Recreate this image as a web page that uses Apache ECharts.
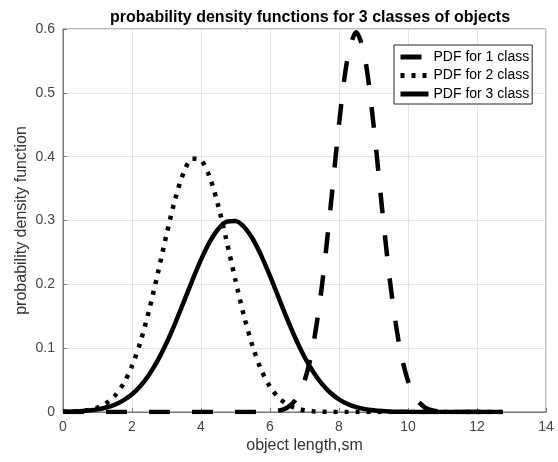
<!DOCTYPE html>
<html>
<head>
<meta charset="utf-8">
<script src="https://cdn.jsdelivr.net/npm/echarts@6/dist/echarts.min.js"></script>
<style>
  html, body { margin: 0; padding: 0; background: #fff; }
  #chart { width: 558px; height: 462px; }
</style>
</head>
<body>
<div id="chart"></div>
<script>
// x positions (object length, sm)
var lengths = [0, 0.25, 0.5, 0.75, 1, 1.25, 1.5, 1.75, 2, 2.25, 2.5, 2.75, 3, 3.25, 3.5, 3.75,
  4, 4.25, 4.5, 4.75, 5, 5.25, 5.5, 5.75, 6, 6.25, 6.5, 6.75, 7, 7.25, 7.5, 7.75,
  8, 8.25, 8.5, 8.75, 9, 9.25, 9.5, 9.75, 10, 10.25, 10.5, 10.75, 11, 11.25, 11.5, 11.75,
  12, 12.25, 12.5, 12.75]

// PDF for 1 class (dashed)
var pdf1 = [0, 0, 0, 0, 0, 0, 0, 0, 0, 0, 0, 0, 0, 0, 0, 0,
  0, 0, 0, 0, 0, 0, 0.00003, 0.00013, 0.00057, 0.0021, 0.0069, 0.0196, 0.0485, 0.1044, 0.1953, 0.318,
  0.4504, 0.555, 0.595, 0.555, 0.4504, 0.318, 0.1953, 0.1044, 0.0485, 0.0196, 0.0069, 0.0021, 0.00057, 0.00013, 0.00003, 0,
  0, 0, 0, 0]

// PDF for 2 class (dotted)
var pdf2 = [0.00024, 0.0006, 0.0015, 0.0033, 0.0069, 0.0136, 0.0252, 0.044, 0.0721, 0.1109, 0.1604, 0.2179, 0.278, 0.3332, 0.3752, 0.3969,
  0.3945, 0.3683, 0.323, 0.2661, 0.2059, 0.1497, 0.1023, 0.0656, 0.0396, 0.0224, 0.0119, 0.006, 0.0028, 0.0012, 0.0005, 0.0002,
  0.0001, 0, 0, 0, 0, 0, 0, 0, 0, 0, 0, 0, 0, 0, 0, 0,
  0, 0, 0, 0]

// PDF for 3 class (solid)
var pdf3 = [0.00034, 0.00067, 0.00126, 0.0023, 0.0041, 0.007, 0.0114, 0.0182, 0.0278, 0.0412, 0.0589, 0.0813, 0.1082, 0.139, 0.1724, 0.2064,
  0.2386, 0.2662, 0.2867, 0.2981, 0.2992, 0.2898, 0.271, 0.2446, 0.2131, 0.1792, 0.1455, 0.114, 0.0862, 0.063, 0.0444, 0.0302,
  0.0198, 0.0126, 0.0077, 0.0045, 0.0026, 0.0014, 0.0008, 0.0004, 0.0002, 0.0001, 0, 0, 0, 0, 0, 0,
  0, 0, 0, 0]

var seriesNames = ['PDF for 1 class', 'PDF for 2 class', 'PDF for 3 class']
var xTicks = { min: 0, max: 14, interval: 2 }
var yTicks = { min: 0, max: 0.6, interval: 0.1 }

function pairs(ys) {
  return lengths.map(function (x, i) { return [x, ys[i]] })
}

var font = 'Liberation Sans, Arial, Helvetica, sans-serif'
var chart = echarts.init(document.getElementById('chart'))

var options = {
  animation: false,
  title: {
    text: 'probability density functions for 3 classes of objects',
    left: 305,
    textAlign: 'center',
    top: 5,
    textStyle: {
      fontFamily: font,
      fontSize: 16,
      fontWeight: 'bold',
      color: '#000'
    }
  },
  legend: {
    orient: 'vertical',
    left: 394,
    top: 45,
    padding: [5, 3, 3, 4],
    itemGap: 4.5,
    itemWidth: 28,
    itemHeight: 14,
    backgroundColor: '#fff',
    borderColor: '#262626',
    borderWidth: 1,
    itemStyle: { opacity: 0 },
    lineStyle: { width: 5 },
    textStyle: {
      fontFamily: font,
      fontSize: 14,
      color: '#000'
    },
    data: seriesNames
  },
  grid: {
    left: 63,
    right: 12,
    top: 29,
    bottom: 50,
    show: true,
    borderColor: '#777',
    borderWidth: 1
  },
  xAxis: {
    type: 'value',
    min: xTicks.min,
    max: xTicks.max,
    interval: xTicks.interval,
    name: 'object length,sm',
    nameLocation: 'middle',
    nameGap: 26,
    nameMoveOverlap: false,
    nameTextStyle: {
      fontFamily: font,
      fontSize: 16,
      color: '#333'
    },
    axisLine: { lineStyle: { color: '#777' } },
    axisTick: { inside: true, length: 4, lineStyle: { color: '#777' } },
    axisLabel: {
      fontFamily: font,
      fontSize: 14,
      color: '#444',
      margin: 8
    },
    splitLine: { show: true, lineStyle: { color: '#e3e3e3' } }
  },
  yAxis: {
    type: 'value',
    min: yTicks.min,
    max: yTicks.max,
    interval: yTicks.interval,
    name: 'probability density function',
    nameLocation: 'middle',
    nameGap: 33,
    nameMoveOverlap: false,
    nameTextStyle: {
      fontFamily: font,
      fontSize: 16,
      color: '#333'
    },
    axisLine: { show: true, lineStyle: { color: '#777' } },
    axisTick: { show: true, inside: true, length: 4, lineStyle: { color: '#777' } },
    axisLabel: {
      fontFamily: font,
      fontSize: 14,
      color: '#444',
      margin: 8
    },
    splitLine: { show: true, lineStyle: { color: '#e3e3e3' } }
  },
  series: [
    {
      name: seriesNames[0],
      type: 'line',
      symbol: 'none',
      smooth: 0.3,
      color: '#000',
      lineStyle: { width: 4.5, color: '#000', type: [21, 22], cap: 'butt' },
      data: pairs(pdf1)
    },
    {
      name: seriesNames[1],
      type: 'line',
      symbol: 'none',
      smooth: 0.3,
      color: '#000',
      lineStyle: { width: 4.5, color: '#000', type: [4, 7], cap: 'butt' },
      data: pairs(pdf2)
    },
    {
      name: seriesNames[2],
      type: 'line',
      symbol: 'none',
      smooth: 0.3,
      color: '#000',
      lineStyle: { width: 4.5, color: '#000', type: 'solid' },
      data: pairs(pdf3)
    }
  ]
}

chart.setOption(options)
</script>
</body>
</html>
